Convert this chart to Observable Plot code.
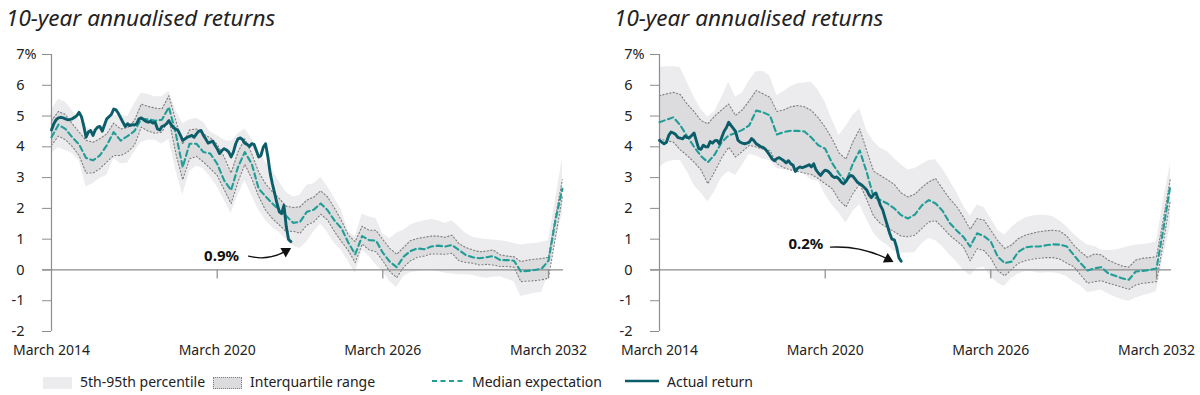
<!DOCTYPE html>
<html>
<head>
<meta charset="utf-8">
<script src="https://cdn.jsdelivr.net/npm/d3@7"></script>
<script src="https://cdn.jsdelivr.net/npm/@observablehq/plot@0.6"></script>
<style>
  body { margin: 0; background: #fff; font-family: "Noto Sans", sans-serif; color: #222; }
  #wrap { position: relative; width: 1200px; height: 395px; overflow: hidden; }
  .panel { position: absolute; top: 0; width: 592px; height: 372px; }
  .title { position: absolute; left: 6px; top: 2px; font-style: italic; font-size: 22.5px; white-space: nowrap; color: #222; }
  .plot { position: absolute; left: 0; top: 40px; }
  .leg { position: absolute; top: 372px; height: 20px; font-size: 14px; line-height: 20px; white-space: nowrap; }
  .sw { position: absolute; }
</style>
</head>
<body>
<div id="wrap">
  <div class="panel" id="left"><div class="title">10-year annualised returns</div><div class="plot"></div></div>
  <div class="panel" id="right" style="left:608px"><div class="title">10-year annualised returns</div><div class="plot"></div></div>
  <div id="legend"></div>
</div>
<script>
// ---------------- data ----------------
const titleText = "10-year annualised returns";
const xTickDates = ["2014-03-01", "2020-03-01", "2026-03-01", "2032-03-01"];
const xTickLabels = ["March 2014", "March 2020", "March 2026", "March 2032"];
const yTicks = [-2, -1, 0, 1, 2, 3, 4, 5, 6, 7];
const legendLabels = ["5th-95th percentile", "Interquartile range", "Median expectation", "Actual return"];

// quarterly projection series, starting March 2014
const leftMedian = [4.31,4.72,4.58,4.31,4.08,3.64,3.56,3.72,4.05,4.48,4.2,4.35,4.51,4.91,4.89,4.85,4.88,5.29,4.42,3.34,4.1,4.1,3.83,3.78,3.45,2.91,2.59,3.34,3.83,3.45,2.64,2.39,2.16,1.94,1.75,1.53,1.56,1.89,1.96,2.16,1.94,1.6,1.35,0.88,0.51,1.1,0.97,0.95,0.56,0.27,0.09,0.43,0.61,0.7,0.67,0.76,0.79,0.76,0.81,0.65,0.49,0.41,0.38,0.41,0.45,0.32,0.32,0.3,-0.05,-0.03,0,0.04,0.3,1.62,2.64];
const leftP95 = [5.2,5.55,5.45,5.18,4.9,4.64,4.53,4.58,4.8,5.02,5.05,4.98,5.39,5.74,5.7,5.63,5.63,5.8,5.18,4.75,4.88,4.93,4.8,4.48,4.37,4.21,4.17,4.42,4.58,4.26,3.78,3.51,3.24,2.86,2.52,2.37,2.43,2.75,2.8,3.0,2.7,2.32,1.94,1.26,1.08,1.81,1.73,1.67,1.17,1.02,1.19,1.29,1.46,1.54,1.6,1.64,1.6,1.51,1.6,1.4,1.19,1.06,1.02,0.99,0.97,0.95,0.92,0.86,0.81,0.84,0.86,0.9,0.95,2.27,3.61];
const leftP5 = [3.78,3.97,3.88,3.78,3.56,2.7,2.8,2.97,3.07,3.61,3.45,3.47,3.83,4.15,4.21,4.21,4.08,4.25,3.24,2.43,3.18,3.37,3.29,3.02,2.7,2.27,1.83,2.43,2.91,2.43,1.94,1.62,1.38,1.21,0.99,0.79,0.7,0.92,1.24,1.49,1.21,0.86,0.63,0.27,-0.11,0.63,0.45,0.16,-0.05,-0.38,-0.57,-0.22,-0.09,-0.05,-0.02,0,-0.05,-0.11,-0.13,-0.16,-0.16,-0.17,-0.24,-0.27,-0.24,-0.22,-0.3,-0.38,-0.86,-0.81,-0.76,-0.73,-0.11,0.92,1.83];
const leftP75 = [4.85,5.15,5.05,4.75,4.48,4.21,4.15,4.26,4.42,4.77,4.58,4.62,4.85,5.39,5.31,5.26,5.23,5.66,4.85,4.08,4.55,4.58,4.42,4.29,4.08,3.67,3.15,3.83,4.26,3.78,3.18,2.8,2.54,2.32,2.07,2.03,2.05,2.27,2.37,2.57,2.37,2.0,1.6,1.13,0.92,1.42,1.29,1.29,0.99,0.7,0.51,0.73,0.95,1.02,1.06,1.1,1.1,1.06,1.13,0.86,0.73,0.65,0.59,0.61,0.65,0.49,0.45,0.43,0.27,0.32,0.35,0.37,0.41,1.73,2.93];
const leftP25 = [4.05,4.35,4.23,4.01,3.72,3.15,3.15,3.29,3.51,3.72,3.72,3.83,4.05,4.64,4.51,4.44,4.48,4.91,3.78,2.93,3.61,3.69,3.51,3.29,3.07,2.61,2.16,2.86,3.43,2.97,2.39,1.94,1.67,1.46,1.24,1.26,1.19,1.46,1.56,1.81,1.62,1.24,0.92,0.63,0.24,0.84,0.65,0.59,0.3,-0.05,-0.25,0.09,0.3,0.41,0.45,0.52,0.52,0.51,0.54,0.3,0.24,0.22,0.16,0.18,0.16,0.11,0.11,0.09,-0.38,-0.36,-0.35,-0.32,-0.27,1.06,2.37];
// monthly actual return, starting March 2014
const leftActual = [4.55,4.75,4.88,4.94,4.96,4.94,4.91,4.88,4.89,4.91,4.96,5.02,5.12,4.98,4.69,4.31,4.48,4.53,4.37,4.55,4.64,4.66,4.51,4.72,4.91,4.98,5.05,5.23,5.2,5.09,4.94,4.8,4.66,4.75,4.69,4.72,4.71,4.75,4.91,4.94,4.88,4.83,4.8,4.83,4.77,4.8,4.58,4.55,4.66,4.69,4.75,4.85,4.72,4.62,4.58,4.53,4.37,4.21,4.26,4.31,4.34,4.37,4.31,4.42,4.51,4.53,4.37,4.26,4.12,4.15,4.19,4.05,3.94,3.78,3.88,3.94,3.9,3.83,3.67,3.83,4.1,4.26,4.29,4.23,4.12,4.08,4.01,4.1,4.08,3.88,3.67,3.72,3.99,4.1,3.67,3.13,2.8,2.48,2.16,1.89,1.83,2.1,1.4,0.99,0.92];

const rightMedian = [4.8,4.88,4.96,4.7,4.35,4.0,3.7,3.5,3.75,4.15,4.37,4.45,4.55,4.7,5.18,5.12,5.02,4.4,4.48,4.52,4.52,4.5,4.3,4.05,3.94,3.47,3.13,2.86,3.45,3.88,3.18,2.37,2.27,2.16,2.0,1.78,1.67,1.8,2.1,2.27,2.16,1.92,1.53,1.29,1.08,0.76,1.19,1.1,0.92,0.43,0.22,0.27,0.59,0.73,0.76,0.76,0.8,0.83,0.82,0.76,0.49,0.22,-0.02,0.05,0.09,-0.11,-0.19,-0.27,-0.32,-0.05,-0.03,0,0.05,1.35,2.75];
const rightP95 = [6.58,6.6,6.6,6.58,6.1,5.62,5.22,4.96,5.15,5.6,6.1,5.62,5.75,6.15,6.45,6.45,6.3,5.66,5.8,5.95,6.05,6.08,6.1,5.83,5.45,4.88,4.37,4.66,5.02,5.23,4.53,4.17,3.95,3.85,3.62,3.42,3.25,3.3,3.43,3.56,3.58,3.29,2.91,2.54,2.1,1.75,2.1,2.03,1.67,1.29,1.13,1.38,1.56,1.69,1.75,1.78,1.78,1.73,1.59,1.4,1.17,0.97,0.81,0.76,0.65,0.63,0.65,0.7,0.76,0.81,0.83,0.86,0.92,2.27,3.45];
const rightP5 = [3.34,3.5,3.56,3.56,3.2,2.75,2.5,2.21,2.55,3.0,3.2,3.07,3.4,3.75,3.7,3.6,3.56,3.3,3.25,3.3,3.25,3.1,2.92,2.88,2.45,2.1,1.85,1.52,1.9,2.12,1.65,1.2,0.95,0.8,0.6,0.55,0.54,0.57,0.85,1.02,0.95,0.76,0.49,0.27,0,-0.19,0.05,0.09,-0.22,-0.43,-0.54,-0.27,-0.13,-0.05,-0.06,-0.11,-0.09,-0.09,-0.13,-0.22,-0.38,-0.52,-0.73,-0.7,-0.65,-0.78,-0.88,-0.97,-1.02,-0.92,-0.84,-0.78,-0.7,0.43,1.46];
const rightP75 = [5.66,5.72,5.77,5.7,5.39,5.15,4.85,4.75,5.0,5.2,5.39,5.02,5.2,5.5,5.83,5.72,5.61,5.15,5.2,5.3,5.34,5.3,5.18,4.94,4.64,4.26,3.8,3.6,4.15,4.58,3.88,3.21,3.07,2.93,2.78,2.5,2.37,2.46,2.68,2.86,2.97,2.64,2.32,2.07,1.73,1.32,1.67,1.62,1.29,0.95,0.7,0.81,1.02,1.13,1.19,1.24,1.27,1.29,1.26,1.1,0.81,0.59,0.41,0.52,0.49,0.32,0.22,0.13,0.09,0.32,0.38,0.4,0.43,1.67,2.97];
const rightP25 = [4.26,4.2,4.15,3.9,3.72,3.5,3.25,2.8,3.2,3.65,3.99,3.67,3.85,4.05,3.99,3.92,3.88,3.45,3.32,3.25,3.2,3.15,3.1,2.97,2.8,2.64,2.27,2.05,2.48,2.8,2.29,1.75,1.51,1.38,1.24,1.1,1.08,1.13,1.35,1.56,1.6,1.38,1.13,0.95,0.76,0.3,0.69,0.63,0.38,-0.02,-0.19,0.02,0.22,0.3,0.35,0.38,0.4,0.4,0.35,0.22,0.11,-0.16,-0.43,-0.38,-0.35,-0.43,-0.49,-0.56,-0.63,-0.49,-0.43,-0.41,-0.38,0.92,2.27];
const rightActual = [4.21,4.15,4.1,4.15,4.37,4.48,4.45,4.4,4.3,4.28,4.26,4.35,4.3,4.3,4.37,4.45,4.2,3.95,3.92,4.05,4.0,4.0,4.17,4.12,4.2,4.21,4.1,4.3,4.5,4.62,4.8,4.7,4.6,4.5,4.22,4.15,4.12,4.1,4.12,4.15,4.27,4.2,4.1,4.05,4.0,3.98,3.92,3.82,3.72,3.6,3.55,3.62,3.65,3.6,3.55,3.48,3.55,3.45,3.4,3.2,3.3,3.35,3.32,3.35,3.38,3.42,3.35,3.45,3.25,3.15,3.07,3.18,3.24,3.22,3.15,3.05,3.0,3.02,2.95,2.85,2.8,2.88,3.0,3.07,3.05,2.95,2.85,2.8,2.75,2.68,2.6,2.45,2.35,2.45,2.5,2.3,2.1,1.95,1.7,1.45,1.2,1.0,0.98,0.75,0.4,0.28];

// annotations (data units)
const leftNote = [{label: "0.9%", tx: "2020-04-28", ty: 0.45, x1: "2021-04-20", y1: 0.45, x2: "2022-08-25", y2: 0.61}];
const rightNote = [{label: "0.2%", tx: "2019-06-20", ty: 0.84, x1: "2020-05-10", y1: 0.74, x2: "2022-06-10", y2: 0.35}];

// ---------------- styles ----------------
const C = {
  outer: "#ececee", inner: "#dcdcdf", dotted: "#7d7d7d",
  median: "#1f9d96", actual: "#0c5d6a", axis: "#8d8d8d", text: "#222"
};

const qDate = k => new Date(Date.UTC(2014, 2 + 3 * k, 1));
const mDate = m => new Date(Date.UTC(2014, 2 + m, 1));
const tickDates = xTickDates.map(d => new Date(d));

function makeChart(s) {
  const bands = s.median.map((v, k) => ({date: qDate(k), p5: s.p5[k], p25: s.p25[k], median: v, p75: s.p75[k], p95: s.p95[k]}));
  const actual = s.actual.map((v, m) => ({date: mDate(m), value: v}));
  const notes = s.note.map(n => ({...n, tx: new Date(n.tx), x1: new Date(n.x1), x2: new Date(n.x2)}));
  return Plot.plot({
    width: 592, height: 330,
    marginLeft: 51, marginRight: 29, marginTop: 14, marginBottom: 39,
    style: {fontFamily: "'Noto Sans', sans-serif", fontSize: "14px", color: C.text, background: "transparent", overflow: "visible"},
    x: {type: "utc", domain: [tickDates[0], tickDates[3]], range: [51, 548]},
    y: {domain: [-2, 7], range: [291, 14]},
    marks: [
      Plot.areaY(bands, {x: "date", y1: "p5", y2: "p95", fill: C.outer}),
      Plot.areaY(bands, {x: "date", y1: "p25", y2: "p75", fill: C.inner}),
      Plot.lineY(bands, {x: "date", y: "p75", stroke: C.dotted, strokeWidth: 1.1, strokeDasharray: "1.2,2.3"}),
      Plot.lineY(bands, {x: "date", y: "p25", stroke: C.dotted, strokeWidth: 1.1, strokeDasharray: "1.2,2.3"}),
      Plot.ruleY([0], {stroke: C.axis, strokeWidth: 1.2, insetLeft: -9}),
      Plot.ruleX([tickDates[0]], {stroke: C.axis, strokeWidth: 1.2}),
      Plot.ruleX(tickDates.slice(1), {y1: 0, y2: 0, insetBottom: -9, stroke: C.axis, strokeWidth: 1.2}),
      Plot.axisY(yTicks, {anchor: "left", tickSize: 9, tickPadding: 18, stroke: C.axis, fill: C.text, fontSize: 14.5, tickFormat: d => String(d)}),
      Plot.text([7], {y: d => d, frameAnchor: "left", dx: -27, text: () => "%", textAnchor: "start", fill: C.text, fontSize: 14.5}),
      Plot.axisX(tickDates, {anchor: "bottom", tickSize: 0, tickPadding: 14, fill: C.text, fontSize: 14,
        tickFormat: d => xTickLabels[tickDates.findIndex(t => +t === +d)]}),
      Plot.lineY(bands, {x: "date", y: "median", stroke: C.median, strokeWidth: 2.1, strokeDasharray: "5.5,3.5"}),
      Plot.lineY(actual, {x: "date", y: "value", stroke: C.actual, strokeWidth: 2.9, strokeLinejoin: "round", strokeLinecap: "round"}),
      Plot.arrow(notes, {x1: "x1", y1: "y1", x2: "x2", y2: "y2", bend: s.bend, headLength: 0, stroke: "#111", strokeWidth: 1.3}),
      Plot.dot(notes, {x: "x2", y: "y2", symbol: "triangle", r: 4, fill: "#111", stroke: "none", rotate: s.rotate}),
      Plot.text(notes, {x: "tx", y: "ty", text: "label", fontWeight: "bold", fontSize: 15, fill: "#111"})
    ]
  });
}

document.querySelector("#left .plot").appendChild(makeChart({
  median: leftMedian, p5: leftP5, p25: leftP25, p75: leftP75, p95: leftP95, actual: leftActual, note: leftNote, bend: -22, rotate: 60
}));
document.querySelector("#right .plot").appendChild(makeChart({
  median: rightMedian, p5: rightP5, p25: rightP25, p75: rightP75, p95: rightP95, actual: rightActual, note: rightNote, bend: 15, rotate: 117
}));
document.querySelectorAll(".title").forEach(el => el.textContent = titleText);

// ---------------- legend ----------------
const leg = document.getElementById("legend");
const items = [
  {sw: `<div class="sw" style="left:43px;top:377px;width:29px;height:12px;background:${C.outer}"></div>`, tx: 80},
  {sw: `<div class="sw" style="left:213px;top:377px;width:27px;height:10px;background:${C.inner};border:1px dotted ${C.dotted}"></div>`, tx: 250},
  {sw: `<svg class="sw" style="left:432px;top:376px" width="34" height="10"><line x1="0" y1="5" x2="34" y2="5" stroke="${C.median}" stroke-width="2" stroke-dasharray="5,3.5"/></svg>`, tx: 472},
  {sw: `<svg class="sw" style="left:625px;top:376px" width="34" height="10"><line x1="0" y1="5" x2="34" y2="5" stroke="${C.actual}" stroke-width="2.5"/></svg>`, tx: 667}
];
leg.innerHTML = items.map((it, i) => it.sw + `<div class="leg" style="left:${it.tx}px">${legendLabels[i]}</div>`).join("");
</script>
</body>
</html>
